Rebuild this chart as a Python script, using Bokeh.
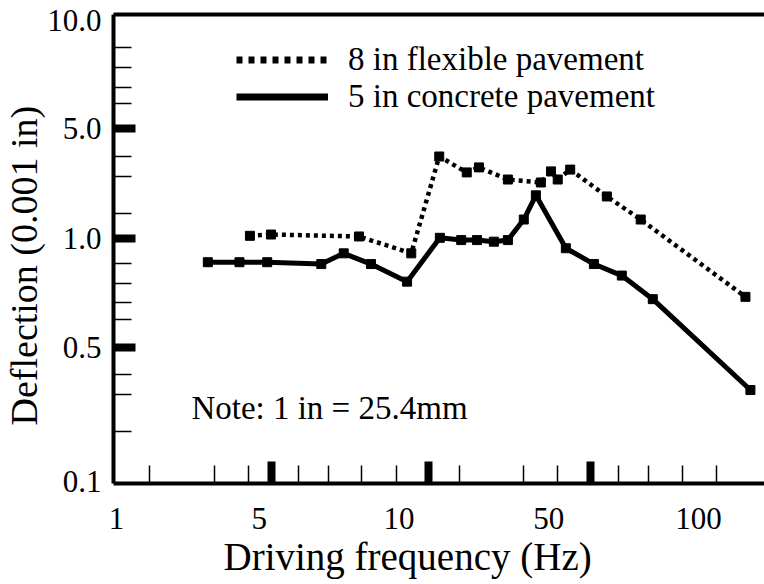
import numpy as np
from bokeh.plotting import figure
from bokeh.models import (Range1d, LinearAxis, FixedTicker, Legend, LegendItem,
                          Label, Title, InlineStyleSheet)
from bokeh.embed import file_html
from bokeh.resources import INLINE

# ---------------- data ----------------
flex_freq = [4.5, 5.3, 8.2, 11.4, 15.4, 20.7, 23.6, 32.2, 45.9, 50.5, 52.1, 55.2, 65.4, 76.5, 124.2]
flex_defl = [1.04, 1.06, 1.03, 0.91, 3.32, 2.63, 2.83, 2.37, 2.27, 2.67, 2.37, 2.74, 1.85, 1.32, 0.69]

conc_freq = [2.8, 4.0, 5.2, 6.8, 7.6, 8.7, 10.9, 15.5, 19.5, 23.1, 27.7, 32.2, 38.2, 43.5,
             54.1, 61.6, 70.1, 80.9, 127.1]
conc_defl = [0.86, 0.86, 0.86, 0.85, 0.91, 0.85, 0.76, 1.01, 0.99, 0.99, 0.98, 0.99, 1.32, 1.88,
             0.94, 0.85, 0.79, 0.68, 0.30]

x_tick_values = [1, 5, 10, 50, 100]
x_tick_labels = ["1", "5", "10", "50", "100"]
y_tick_values = [0.1, 0.5, 1.0, 5.0, 10.0]
y_tick_labels = ["0.1", "0.5", "1.0", "5.0", "10.0"]

series_labels = ["8 in flexible pavement", "5 in concrete pavement"]
note_text = "Note: 1 in = 25.4mm"
x_title = "Driving frequency (Hz)"
y_title = "Deflection (0.001 in)"

# ---------------- layout of the (piecewise logarithmic) axes ----------------
FRAME_W, FRAME_H = 652, 469
X_ANCHOR = [3, 146, 286, 436, 586]      # axis units where the x tick labels sit
Y_ANCHOR = [2, 136, 245, 355, 463]      # axis units where the y tick labels sit
X_THICK = [158, 315, 478]
X_MINOR = [36, 101, 135, 185, 215, 248, 283, 347, 411, 445, 506, 536, 570, 604]
Y_THICK = [136, 245, 355]
Y_MINOR = [436, 416, 396, 380, 327, 307, 270, 220, 200, 181, 164, 109, 89, 52]

FONT = "Liberation Serif"
INK = "black"


def to_axis(vals, anchor_vals, anchor_pos):
    lv = np.log10(np.asarray(anchor_vals, dtype=float))
    pos = np.asarray(anchor_pos, dtype=float)
    lx = np.log10(np.asarray(vals, dtype=float))
    res = np.interp(lx, lv, pos)
    hi = lx > lv[-1]
    res[hi] = pos[-1] + (lx[hi] - lv[-1]) * (pos[-1] - pos[-2]) / (lv[-1] - lv[-2])
    lo = lx < lv[0]
    res[lo] = pos[0] + (lx[lo] - lv[0]) * (pos[1] - pos[0]) / (lv[1] - lv[0])
    return res


fx = to_axis(flex_freq, x_tick_values, X_ANCHOR)
fy = to_axis(flex_defl, y_tick_values, Y_ANCHOR)
cx = to_axis(conc_freq, x_tick_values, X_ANCHOR)
cy = to_axis(conc_defl, y_tick_values, Y_ANCHOR)
xlab_pos = [float(v) for v in to_axis(x_tick_values, x_tick_values, X_ANCHOR)]
ylab_pos = [float(v) for v in to_axis(y_tick_values, y_tick_values, Y_ANCHOR)]

p = figure(width=764, height=584, output_backend="svg", toolbar_location=None,
           x_range=Range1d(0, FRAME_W), y_range=Range1d(0, FRAME_H),
           x_axis_type=None, y_axis_type=None,
           min_border_left=112, min_border_right=0, min_border_top=14, min_border_bottom=101)
p.outline_line_color = None
p.stylesheets = [InlineStyleSheet(css=":host, * { font-family: 'Liberation Serif', serif; }")]


def tick_axis(thick, minor, tick_len=22, minor_len=18):
    return LinearAxis(ticker=FixedTicker(ticks=thick, minor_ticks=minor),
                      axis_line_width=4, axis_line_color=INK,
                      major_tick_in=tick_len, major_tick_out=0, major_tick_line_width=8,
                      major_tick_line_color=INK,
                      minor_tick_in=minor_len, minor_tick_out=0, minor_tick_line_width=1.5,
                      minor_tick_line_color=INK,
                      major_label_text_font_size="0px", major_label_standoff=0,
                      major_label_overrides={float(t): "" for t in thick})


def label_axis(pos, labels, standoff):
    return LinearAxis(ticker=FixedTicker(ticks=pos, minor_ticks=[]),
                      major_label_overrides=dict(zip(pos, labels)),
                      axis_line_color=None, major_tick_line_color=None,
                      minor_tick_line_color=None,
                      major_tick_in=0, major_tick_out=0, minor_tick_in=0, minor_tick_out=0,
                      major_label_text_font=FONT, major_label_text_font_size="31px",
                      major_label_text_color=INK, major_label_standoff=standoff)


p.add_layout(tick_axis(X_THICK, X_MINOR), "below")
p.add_layout(label_axis(xlab_pos, x_tick_labels, 24), "below")
p.add_layout(Title(text=x_title, align="left", offset=110, vertical_align="top", standoff=6,
                   text_font=FONT, text_font_size="39px", text_font_style="normal",
                   text_color=INK), "below")
p.add_layout(tick_axis(Y_THICK, Y_MINOR), "left")
ylab_axis = label_axis(ylab_pos, y_tick_labels, 12)
ylab_axis.major_label_orientation = "horizontal"
p.add_layout(ylab_axis, "left")
p.add_layout(Title(text=y_title, align="left", offset=58, standoff=0,
                   text_font=FONT, text_font_size="38px", text_font_style="normal",
                   text_color=INK), "left")
# top frame line: an axis with its tick marks hidden
top_axis = tick_axis(X_THICK, [], 0, 0)
top_axis.major_tick_line_color = None
top_axis.minor_tick_line_color = None
p.add_layout(top_axis, "above")

# data
p.line(fx, fy, line_width=4.5, line_dash="4 4", color=INK)
p.scatter(fx, fy, marker="square", size=9, color=INK)
p.line(cx, cy, line_width=5, color=INK)
p.scatter(cx, cy, marker="square", size=9, color=INK)

# legend samples: heavier copies of the two lines, hidden in the plot itself
leg_flex = p.line(fx, fy, line_width=7, line_dash="6 6", color=INK, visible=False)
leg_conc = p.line(cx, cy, line_width=7, color=INK, visible=False)
legend = Legend(items=[LegendItem(label=series_labels[0], renderers=[leg_flex]),
                       LegendItem(label=series_labels[1], renderers=[leg_conc])],
                location=(123, 368), glyph_width=92, glyph_height=35, label_height=35,
                label_standoff=20, spacing=0, padding=0, margin=0,
                border_line_color=None, background_fill_alpha=0, inactive_fill_alpha=0,
                label_text_font=FONT, label_text_font_size="33px", label_text_color=INK)
p.add_layout(legend)

p.add_layout(Label(x=78, y=76, text=note_text, text_font=FONT, text_font_size="33px",
                   text_baseline="alphabetic", text_color=INK))

open("out.html", "w").write(file_html(p, INLINE))
